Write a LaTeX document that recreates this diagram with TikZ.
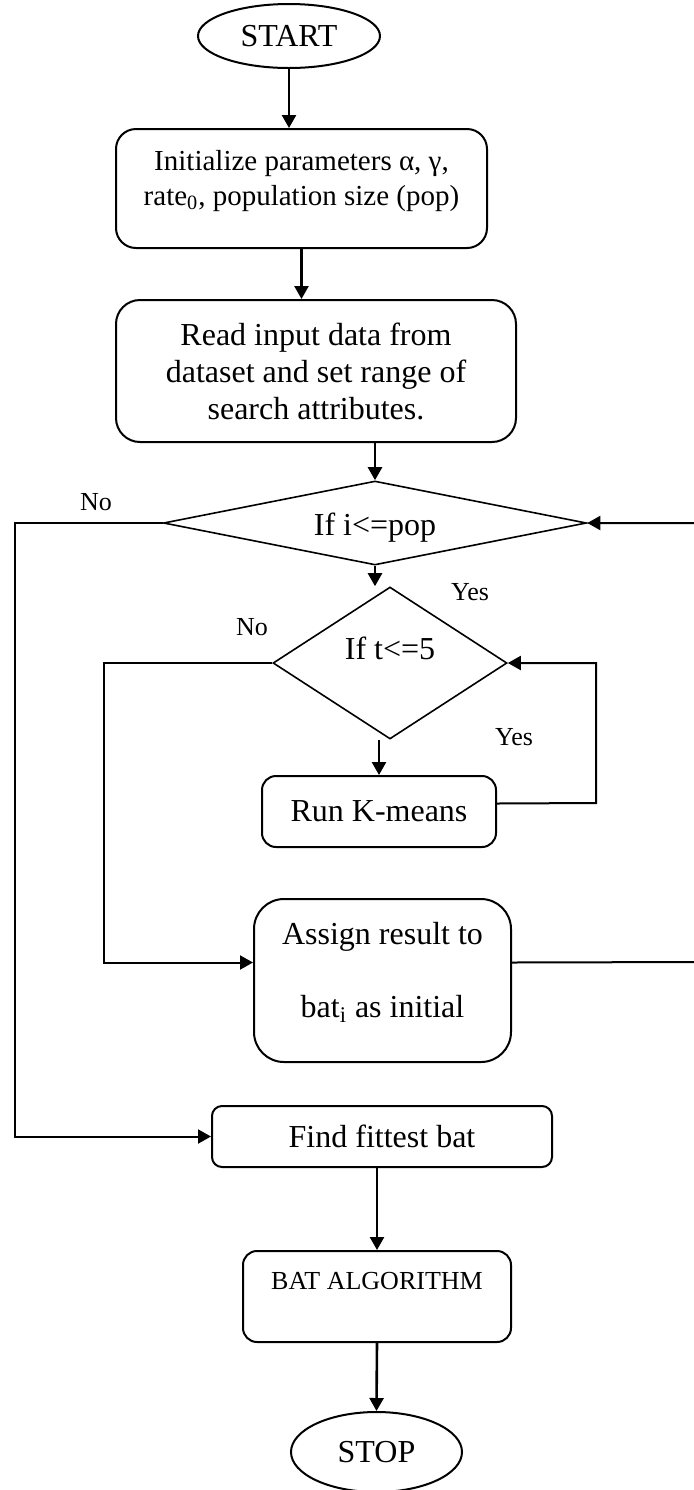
\documentclass[tikz,border=0pt]{standalone}
\usepackage{fontspec}
\setmainfont{Liberation Serif}
\usetikzlibrary{shapes.geometric,arrows.meta}

\begin{document}
\begin{tikzpicture}[x=0.5pt, y=-0.5pt]
        \tikzset{
            proc/.style={
                draw,
                rounded corners=#1,
                line width=1pt,
                align=center,
                font=\fontsize{16}{18.5}\selectfont
            },
            term/.style={draw, ellipse, line width=1pt, inner sep=0pt,
                font=\fontsize{16}{18.5}\selectfont},
            cond/.style={draw, diamond, line width=0.8pt, inner sep=0pt,
                font=\fontsize{16}{18.5}\selectfont},
            flow/.style={-{Triangle[length=6.5pt,width=7pt]}, line width=1.3pt},
            wire/.style={line width=1pt},
            lbl/.style={font=\fontsize{13}{15}\selectfont, inner sep=0pt}
        }
        \clip (0,0) rectangle (694,1490);

        %blocos
        \node[term, minimum width=91pt, minimum height=32pt] (start) at (289,36) {START};
        \node[proc=10pt, minimum width=185.5pt, minimum height=59.5pt,
              font=\fontsize{14.5}{17.5}\selectfont] (init) at (301.5,188.5)
              {\raisebox{4pt}[\height][\depth]{\begin{tabular}{@{}c@{}}Initialize parameters α, γ,\\
               rate\textsubscript{0}, population size (pop)\end{tabular}}};
        \node[proc=12pt, minimum width=200pt, minimum height=71pt] (read) at (316,371)
              {Read input data from\\dataset and set range of\\search attributes.};

        \node[cond, aspect=5, minimum width=211.5pt, minimum height=42pt,
              text height=16pt, text depth=3.5pt] (d1) at (375,523) {If i<=pop};
        \node[cond, aspect=1.5, minimum width=117pt, minimum height=76pt,
              text height=11pt, text depth=14.5pt] (d2) at (390,663) {If t<=5};

        \node[proc=7pt, minimum width=117pt, minimum height=35.5pt] (kmeans) at (379,811.5) {Run K-means};
        \node[proc=15pt, minimum width=128.5pt, minimum height=81.5pt] (assign) at (382.5,980.5)
              {\raisebox{3.5pt}[\height][\depth]{\begin{tabular}{@{}c@{}}Assign result to\\[18pt]
               bat\textsubscript{i} as initial\end{tabular}}};
        \node[proc=5pt, minimum width=170pt, minimum height=30.5pt] (find) at (382,1136.5) {Find fittest bat};
        \node[proc=7pt, minimum width=134pt, minimum height=45.5pt,
              font=\fontsize{13}{15}\selectfont, text height=9pt, text depth=16.5pt]
              (bat) at (377,1296.5) {BAT ALGORITHM};
        \node[term, minimum width=85.5pt, minimum height=40pt] (stop) at (376.5,1452) {STOP};

        %rotulos
        \node[lbl] (noA) at (96,502) {No};
        \node[lbl] (yesA) at (470,592) {Yes};
        \node[lbl] (noB) at (252,627) {No};
        \node[lbl] (yesB) at (514,737) {Yes};

        \coordinate (cA) at (15,523);
        \coordinate (cB) at (104,663);
        \coordinate (cC) at (596,803);
        \coordinate (cD) at (701,962);

        %setas
        \draw[flow] (start.south) -- (start.south |- init.north);
        \draw[flow] (init.south) -- (init.south |- read.north);
        \draw[flow] (d1.north |- read.south) -- (d1.north);
        \draw[flow] (d1.south) -- (d1.south |- d2.north);
        \draw[flow] (kmeans.north |- d2.south) -- (kmeans.north);
        \draw[flow] (bat.north |- find.south) -- (bat.north);
        \draw[flow] (bat.south) -- (stop.north);

        \draw[flow, wire] (d1.west) -- (cA) |- (find.west);
        \draw[flow, wire] (d2.west) -- (cB) |- ([yshift=9pt]assign.west);
        \draw[flow, wire] ([yshift=4pt]kmeans.east) -- (cC) |- (d2.east);
        \draw[flow, wire] ([yshift=9pt]assign.east) -- (cD) |- (d1.east);

\end{tikzpicture}
\end{document}
